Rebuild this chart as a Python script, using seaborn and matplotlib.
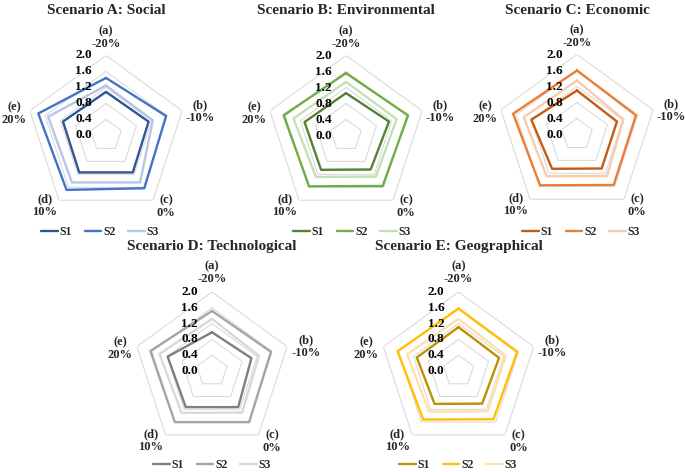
import numpy as np
import pandas as pd
import matplotlib
matplotlib.use("Agg")
import matplotlib.pyplot as plt
import seaborn as sns

sns.set_theme(style="white")
plt.rcParams['font.family'] = ['Liberation Serif', 'DejaVu Serif']
plt.rcParams['font.weight'] = 'bold'

# ---- data ----
categories = ["(a)\n-20%", "(b)\n-10%", "(c)\n0%", "(d)\n10%", "(e)\n20%"]
series_names = ["S1", "S2", "S3"]
tick_values = [0.0, 0.4, 0.8, 1.2, 1.6, 2.0]

titles = ["Scenario A: Social", "Scenario B: Environmental", "Scenario C: Economic",
          "Scenario D: Technological", "Scenario E: Geographical"]

social_S1 = [1.09, 1.12, 1.14, 1.14, 1.13]
social_S2 = [1.44, 1.58, 1.63, 1.68, 1.78]
social_S3 = [1.25, 1.23, 1.45, 1.45, 1.52]

environmental_S1 = [1.06, 1.13, 1.05, 1.06, 1.09]
environmental_S2 = [1.56, 1.63, 1.56, 1.57, 1.64]
environmental_S3 = [1.34, 1.33, 1.27, 1.28, 1.38]

economic_S1 = [1.10, 1.05, 1.05, 1.06, 1.20]
economic_S2 = [1.60, 1.55, 1.56, 1.57, 1.68]
economic_S3 = [1.35, 1.22, 1.28, 1.29, 1.40]

technological_S1 = [0.98, 1.05, 1.13, 1.13, 1.18]
technological_S2 = [1.52, 1.57, 1.60, 1.60, 1.64]
technological_S3 = [1.32, 1.25, 1.30, 1.31, 1.40]

geographical_S1 = [1.11, 1.08, 1.02, 1.03, 1.11]
geographical_S2 = [1.58, 1.56, 1.51, 1.52, 1.62]
geographical_S3 = [1.32, 1.26, 1.26, 1.27, 1.37]

palettes = [
    ["#2F5597", "#4472C4", "#B4C7E7"],
    ["#548235", "#70AD47", "#C5E0B4"],
    ["#C55A11", "#ED7D31", "#F8CBAD"],
    ["#7F7F7F", "#A5A5A5", "#D9D9D9"],
    ["#BF9000", "#FFC000", "#FFE0A8"],
]

all_data = [
    [social_S1, social_S2, social_S3],
    [environmental_S1, environmental_S2, environmental_S3],
    [economic_S1, economic_S2, economic_S3],
    [technological_S1, technological_S2, technological_S3],
    [geographical_S1, geographical_S2, geographical_S3],
]

# ---- layout (pixel positions) ----
W, H = 685, 472
fig = plt.figure(figsize=(W / 100, H / 100), dpi=100)

centers = [(106, 135.5), (346, 135.5), (577, 134.5), (212, 371), (458.5, 371)]
radius_px = [80, 80, 80, 79, 79]
title_y = [11, 11, 11, 246, 246]
legend_pos = [(100, 232), (352, 232), (581, 232), (212, 465), (458, 465)]
# category label offsets from the chart centre, in pixels (x right, y up)
label_offsets = [(0, 98), (94, 24), (60, -71), (-61, -70), (-92, 22)]

n = len(categories)
theta = np.linspace(0, 2 * np.pi, n, endpoint=False)
theta_closed = np.append(theta, 2 * np.pi)

for i in range(5):
    cx, cy = centers[i]
    R = radius_px[i]
    ax = fig.add_axes([(cx - R) / W, 1 - (cy + R) / H, 2 * R / W, 2 * R / H],
                      projection='polar')
    ax.set_theta_zero_location('N')
    ax.set_theta_direction(-1)
    ax.grid(False)
    ax.set_xticks([])
    ax.set_yticks([])
    ax.spines['polar'].set_visible(False)
    ax.set_facecolor('none')

    # pentagon gridlines
    for g in tick_values[1:]:
        ax.plot(theta_closed, [g] * (n + 1), color="#D9D9D9", lw=0.75, zorder=1)

    # series
    for j, name in enumerate(series_names):
        vals = all_data[i][j]
        df = pd.DataFrame({"theta": theta_closed, "value": vals + [vals[0]]})
        sns.lineplot(data=df, x="theta", y="value", ax=ax, sort=False,
                     color=palettes[i][j], lw=1.7, label=name, zorder=3)

    ax.set_ylim(0, 2.0)
    ax.set_xlabel("")
    ax.set_ylabel("")

    # radial tick labels
    for v in tick_values:
        ax.annotate(f"{v:.1f}", xy=(0, v), xytext=(-14, 0), textcoords='offset pixels',
                    ha='right', va='center', fontsize=9.5, fontweight='bold',
                    color='black', zorder=5)

    # category labels
    for (dx, dy), lab in zip(label_offsets, categories):
        ax.annotate(lab, xy=(0, 0), xytext=(dx, dy), textcoords='offset pixels',
                    ha='center', va='center', fontsize=9, fontweight='bold',
                    linespacing=1.1, annotation_clip=False)

    # title
    fig.text(cx / W, 1 - title_y[i] / H, titles[i], ha='center', va='center',
             fontsize=11, fontweight='bold')

    # legend
    lx, ly = legend_pos[i]
    ax.legend(loc='center', bbox_to_anchor=(lx / W, 1 - ly / H),
              bbox_transform=fig.transFigure, ncol=3, frameon=False,
              handlelength=1.4, handletextpad=0.15, columnspacing=1.1,
              prop={'weight': 'bold', 'size': 8.5})

fig.savefig("out.png", dpi=100)
